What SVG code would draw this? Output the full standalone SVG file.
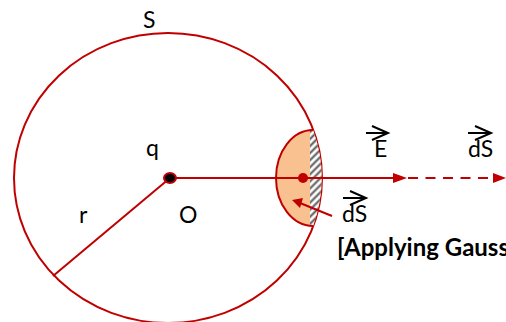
<svg xmlns="http://www.w3.org/2000/svg" width="506" height="322" viewBox="0 0 506 322">
<style>
.r{stroke:#C00000;stroke-width:2;fill:none}
.t{font-family:Lato,"Liberation Sans",sans-serif;font-size:23px;fill:#000}
.b{font-family:Lato,"Liberation Sans",sans-serif;font-size:24px;font-weight:bold;fill:#000}
.v{stroke:#000;stroke-width:2;fill:none}
</style>
<defs>
<pattern id="hatch" width="5" height="5" patternUnits="userSpaceOnUse" patternTransform="rotate(-45)">
<rect width="5" height="5" fill="#fff"/>
<line x1="0" y1="2.5" x2="5" y2="2.5" stroke="#555" stroke-width="2"/>
</pattern>
</defs>
<g id="sphere">
<ellipse class="r" cx="168" cy="178" rx="154" ry="145"/>
</g>
<g id="element">
<path d="M313,130 A37,48 0 0 0 313,226 A154,145 0 0 0 313,130 Z" fill="#F8C18F" stroke="none"/>
<path d="M310,128 L313,130 A154,145 0 0 1 313,226 L310,226 Z" fill="url(#hatch)" stroke="none"/>
<path class="r" d="M313,130 A37,48 0 0 0 313,226"/>
<circle cx="303" cy="178" r="5" fill="#C00000"/>
</g>
<g id="connectors">
<line class="r" x1="170" y1="178" x2="53" y2="276"/>
<line class="r" x1="170" y1="178" x2="396" y2="178"/>
<polygon points="393,173 407,178 393,183" fill="#C00000"/>
<line class="r" x1="408" y1="178" x2="493" y2="178" stroke-dasharray="10,7.5"/>
<polygon points="493,173 506,178 493,183" fill="#C00000"/>
<line class="r" x1="332" y1="216" x2="300" y2="203" stroke-width="2.5"/>
<polygon points="292,200 303,198 300,208" fill="#C00000"/>
</g>
<g id="charge">
<ellipse cx="170" cy="178" rx="6" ry="5" fill="#000" stroke="#C00000" stroke-width="2"/>
</g>
<g id="labels">
<text class="t" x="143" y="28">S</text>
<text class="t" x="146" y="156">q</text>
<text class="t" x="79" y="223">r</text>
<text class="t" x="179" y="223">O</text>
<text class="t" x="374" y="157">E</text>
<path class="v" d="M366,133 H388 M372,126 L388,133 L372,140"/>
<text class="t" x="468" y="157">dS</text>
<path class="v" d="M468,133 H491 M475,126 L491,133 L475,140"/>
<text class="t" x="342" y="222">dS</text>
<path class="v" d="M343,198 H366 M350,191 L366,198 L350,205"/>
<text class="b" x="337" y="256">[Applying Gauss</text>
</g>
</svg>
